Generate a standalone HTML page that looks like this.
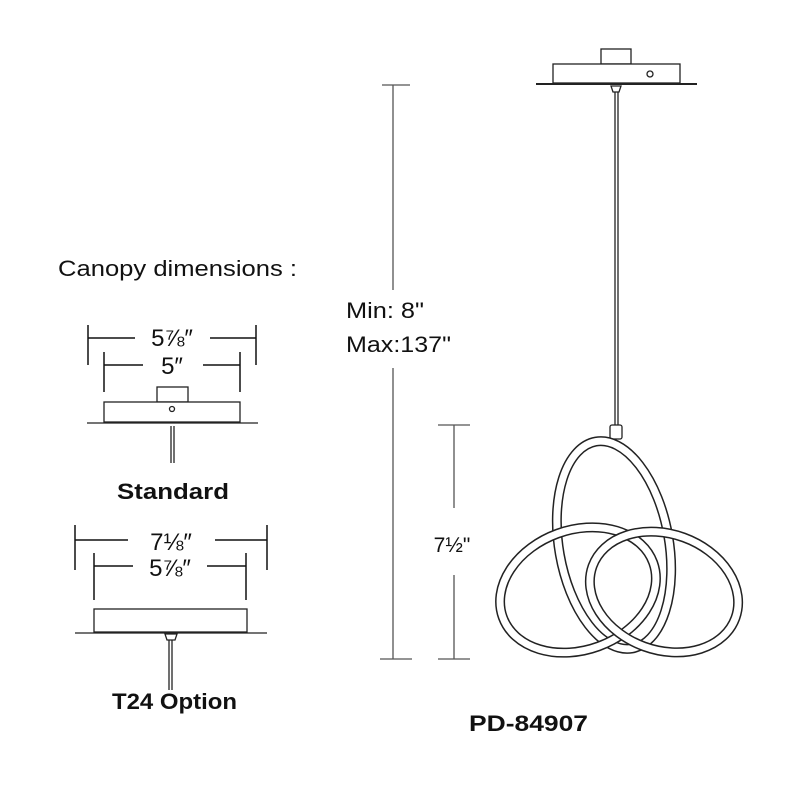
<!DOCTYPE html>
<html><head><style>
html,body{margin:0;padding:0;background:#fff;}
svg{display:block;}
text{font-family:"Liberation Sans",sans-serif;fill:#111;}
</style></head><body>
<svg width="800" height="800" viewBox="0 0 800 800" xmlns="http://www.w3.org/2000/svg">
<!-- height dims -->
<g stroke="#555" stroke-width="1.3" fill="none">
<line x1="393" y1="85" x2="393" y2="290"/>
<line x1="393" y1="368" x2="393" y2="659"/>
<line x1="382" y1="85" x2="410" y2="85"/>
<line x1="380" y1="659" x2="412" y2="659"/>
<line x1="454" y1="425" x2="454" y2="508"/>
<line x1="454" y1="575" x2="454" y2="659"/>
<line x1="438" y1="425" x2="470" y2="425"/>
<line x1="438" y1="659" x2="470" y2="659"/>
</g>
<text x="346" y="318" font-size="22" textLength="78" lengthAdjust="spacingAndGlyphs">Min: 8"</text>
<text x="346" y="352" font-size="22" textLength="105" lengthAdjust="spacingAndGlyphs">Max:137"</text>
<text x="452" y="552" font-size="21" text-anchor="middle">7½"</text>

<!-- top canopy -->
<g stroke="#222" stroke-width="1.3" fill="#fff">
<rect x="601" y="49" width="30" height="15"/>
<rect x="553" y="64" width="127" height="19"/>
<line x1="536" y1="84" x2="697" y2="84" stroke-width="2"/>
<circle cx="650" cy="74" r="3"/>
<path d="M611 86 L621 86 L619 92 L613 92 Z"/>
<line x1="615" y1="92" x2="615" y2="425"/>
<line x1="618" y1="92" x2="618" y2="425"/>
<rect x="610" y="425" width="12" height="14" rx="2"/>
</g>

<!-- knot -->
<g fill="none">
<g transform="rotate(-10 614 545)">
<ellipse cx="614" cy="545" rx="55" ry="105" stroke="#222" stroke-width="10"/>
<ellipse cx="614" cy="545" rx="55" ry="105" stroke="#fff" stroke-width="7"/>
</g>
<g transform="rotate(-20 578 590)">
<ellipse cx="578" cy="590" rx="80" ry="60" stroke="#222" stroke-width="10"/>
<ellipse cx="578" cy="590" rx="80" ry="60" stroke="#fff" stroke-width="7"/>
</g>
<g transform="rotate(20 664 592)">
<ellipse cx="664" cy="592" rx="76" ry="58" stroke="#222" stroke-width="10"/>
<ellipse cx="664" cy="592" rx="76" ry="58" stroke="#fff" stroke-width="7"/>
</g>
</g>

<!-- left -->
<text x="58" y="276" font-size="22" textLength="239" lengthAdjust="spacingAndGlyphs">Canopy dimensions :</text>
<g stroke="#111" stroke-width="1.5" fill="none">
<line x1="88" y1="325" x2="88" y2="365"/><line x1="256" y1="325" x2="256" y2="365"/>
<line x1="88" y1="338" x2="135" y2="338"/><line x1="210" y1="338" x2="256" y2="338"/>
<line x1="104" y1="352" x2="104" y2="392"/><line x1="240" y1="352" x2="240" y2="392"/>
<line x1="104" y1="365" x2="143" y2="365"/><line x1="203" y1="365" x2="240" y2="365"/>
</g>
<text x="172" y="346" font-size="24" text-anchor="middle">5⅞″</text>
<text x="172" y="374" font-size="24" text-anchor="middle">5″</text>
<g stroke="#222" stroke-width="1.3" fill="#fff">
<rect x="157" y="387" width="31" height="15"/>
<rect x="104" y="402" width="136" height="20"/>
<line x1="87" y1="423" x2="258" y2="423"/>
<circle cx="172" cy="409" r="2.5"/>
<line x1="171" y1="426" x2="171" y2="463"/><line x1="174" y1="426" x2="174" y2="463"/>
</g>
<text x="117" y="499" font-size="22" font-weight="bold" textLength="112" lengthAdjust="spacingAndGlyphs">Standard</text>

<g stroke="#111" stroke-width="1.5" fill="none">
<line x1="75" y1="525" x2="75" y2="570"/><line x1="267" y1="525" x2="267" y2="570"/>
<line x1="75" y1="540" x2="128" y2="540"/><line x1="215" y1="540" x2="267" y2="540"/>
<line x1="94" y1="553" x2="94" y2="600"/><line x1="246" y1="553" x2="246" y2="600"/>
<line x1="94" y1="566" x2="133" y2="566"/><line x1="207" y1="566" x2="246" y2="566"/>
</g>
<text x="171" y="550" font-size="24" text-anchor="middle">7⅛″</text>
<text x="170" y="576" font-size="24" text-anchor="middle">5⅞″</text>
<g stroke="#222" stroke-width="1.3" fill="#fff">
<rect x="94" y="609" width="153" height="23"/>
<line x1="75" y1="633" x2="267" y2="633"/>
<path d="M165 634 L177 634 L175 640 L167 640 Z"/>
<line x1="169" y1="640" x2="169" y2="690"/><line x1="172" y1="640" x2="172" y2="690"/>
</g>
<text x="112" y="709" font-size="22" font-weight="bold" textLength="125" lengthAdjust="spacingAndGlyphs">T24 Option</text>
<text x="469" y="731" font-size="22" font-weight="bold" textLength="119" lengthAdjust="spacingAndGlyphs">PD-84907</text>
</svg>
</body></html>
